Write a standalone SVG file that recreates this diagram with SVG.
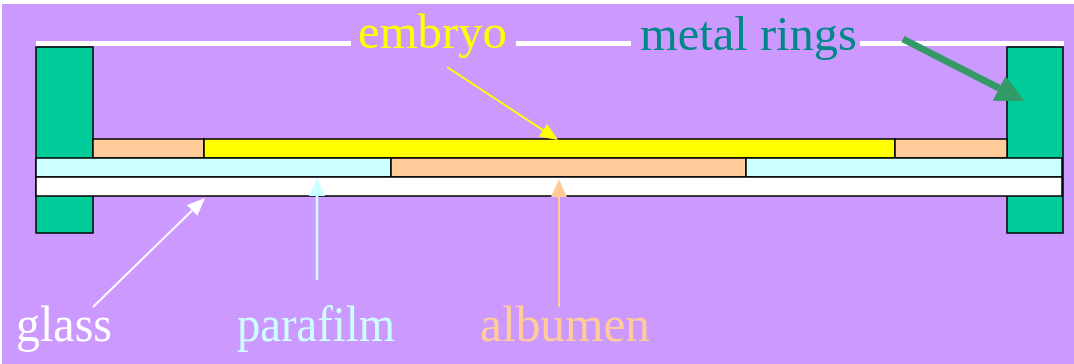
<svg xmlns="http://www.w3.org/2000/svg" width="1074" height="364" viewBox="0 0 1074 364">
<style>
.lbl{font-family:"Liberation Serif","Times New Roman",serif;font-size:48px}
.blbl{font-family:"Liberation Serif","Times New Roman",serif;font-size:50px}
.layer{stroke:#000;stroke-width:1.5}
.ring{fill:#00CC99;stroke:#000;stroke-width:1.5}
.rule{stroke:#fff;stroke-width:5}
</style>
<defs>
<marker id="hw" markerUnits="userSpaceOnUse" viewBox="0 0 18 15" markerWidth="18" markerHeight="15" refX="0" refY="7.5" orient="auto"><path d="M0,0 L18,7.5 L0,15 Z" fill="#FFFFFF"/></marker>
<marker id="hc" markerUnits="userSpaceOnUse" viewBox="0 0 18 16" markerWidth="18" markerHeight="16" refX="0" refY="8" orient="auto"><path d="M0,0 L18,8 L0,16 Z" fill="#CCFFFF"/></marker>
<marker id="hp" markerUnits="userSpaceOnUse" viewBox="0 0 18 16" markerWidth="18" markerHeight="16" refX="0" refY="8" orient="auto"><path d="M0,0 L18,8 L0,16 Z" fill="#FFCC99"/></marker>
<marker id="hy" markerUnits="userSpaceOnUse" viewBox="0 0 18 15" markerWidth="18" markerHeight="15" refX="0" refY="7.5" orient="auto"><path d="M0,0 L18,7.5 L0,15 Z" fill="#FFFF00"/></marker>
<marker id="hg" markerUnits="userSpaceOnUse" viewBox="0 0 28 28" markerWidth="28" markerHeight="28" refX="0" refY="14" orient="auto"><path d="M0,0 L28,14 L0,28 Z" fill="#339966"/></marker>
</defs>
<rect x="0" y="0" width="1074" height="364" fill="#FFFFFF"/>
<rect x="2" y="4" width="1072" height="360" fill="#CC99FF"/>
<g id="rules">
<line class="rule" x1="36" y1="43.5" x2="351" y2="43.5"/>
<line class="rule" x1="516" y1="43.5" x2="631" y2="43.5"/>
<line class="rule" x1="860" y1="43.5" x2="1064" y2="43.5"/>
</g>
<g id="ring-left"><rect class="ring" x="36" y="47" width="57" height="186"/></g>
<g id="ring-right"><rect class="ring" x="1007" y="47" width="56" height="186"/></g>
<g id="albumen-left"><rect class="layer" x="93" y="139" width="111" height="19" fill="#FFCC99"/></g>
<g id="embryo-layer"><rect class="layer" x="204" y="139" width="691" height="19" fill="#FFFF00"/></g>
<g id="albumen-right"><rect class="layer" x="895" y="139" width="112" height="19" fill="#FFCC99"/></g>
<g id="parafilm-left"><rect class="layer" x="36" y="158" width="355" height="19" fill="#CCFFFF"/></g>
<g id="albumen-mid"><rect class="layer" x="391" y="158" width="355" height="19" fill="#FFCC99"/></g>
<g id="parafilm-right"><rect class="layer" x="746" y="158" width="316" height="19" fill="#CCFFFF"/></g>
<g id="glass-layer"><rect class="layer" x="36" y="177" width="1026" height="19" fill="#FFFFFF"/></g>
<g id="connectors">
<line x1="93" y1="307" x2="192.1" y2="210.5" stroke="#FFFFFF" stroke-width="2" marker-end="url(#hw)"/>
<line x1="317" y1="280" x2="317" y2="196" stroke="#CCFFFF" stroke-width="2.5" marker-end="url(#hc)"/>
<line x1="559" y1="307" x2="559" y2="197" stroke="#FFCC99" stroke-width="2" marker-end="url(#hp)"/>
<line x1="447" y1="67" x2="543" y2="130.1" stroke="#FFFF00" stroke-width="2" marker-end="url(#hy)"/>
<line x1="903" y1="39" x2="999.1" y2="88.2" stroke="#339966" stroke-width="7" marker-end="url(#hg)"/>
</g>
<g id="labels">
<text class="lbl" x="358" y="48" fill="#FFFF00" textLength="149" lengthAdjust="spacingAndGlyphs">embryo</text>
<text class="lbl" x="640" y="50" fill="#008888" textLength="217" lengthAdjust="spacingAndGlyphs">metal rings</text>
<text class="blbl" x="16" y="341" fill="#FFFFFF" textLength="96" lengthAdjust="spacingAndGlyphs">glass</text>
<text class="blbl" x="237" y="341" fill="#CCFFFF" textLength="158" lengthAdjust="spacingAndGlyphs">parafilm</text>
<text class="blbl" x="480" y="341" fill="#FFCC99" textLength="170" lengthAdjust="spacingAndGlyphs">albumen</text>
</g>
</svg>
